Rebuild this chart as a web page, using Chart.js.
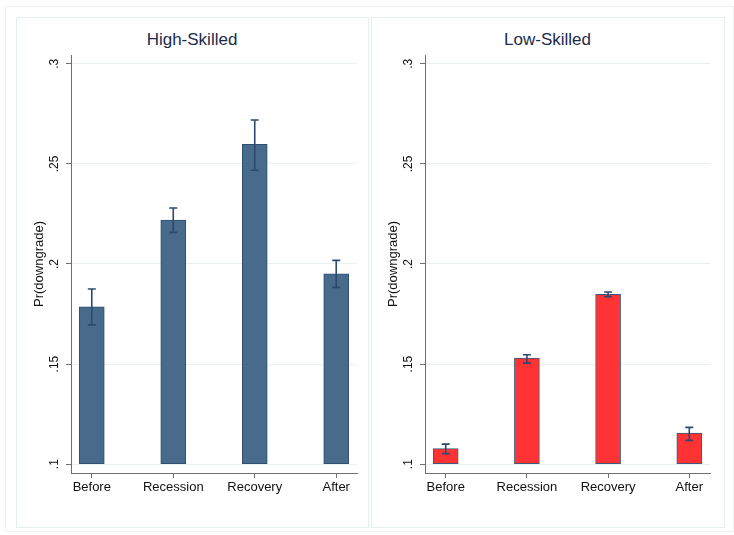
<!DOCTYPE html>
<html>
<head>
<meta charset="utf-8">
<script src="https://cdn.jsdelivr.net/npm/chart.js@4"></script>
<style>
  body { margin: 0; background: #fff; font-family: "Liberation Sans", Arial, sans-serif; }
  #wrap { position: relative; width: 734px; height: 535px; }
  .outer { position: absolute; left: 5px; top: 6px; width: 727px; height: 524px; border: 1px solid #eef2f3; }
  .panel { position: absolute; top: 17px; height: 509px; border: 1px solid #e6eef0; }
  .title { position: absolute; top: 30px; line-height: 20px; font-size: 17px; color: #1c2b4b; text-align: center; }
  canvas { position: absolute; top: 17px; }
</style>
</head>
<body>
<div id="wrap">
  <div class="outer"></div>
  <div class="panel" style="left:16px;width:351px;"></div>
  <div class="panel" style="left:371px;width:352px;"></div>
  <div class="title" style="left:16px;width:352px;">High-Skilled</div>
  <div class="title" style="left:371px;width:353px;">Low-Skilled</div>
  <canvas id="highChart" width="352" height="510" style="left:16px;"></canvas>
  <canvas id="lowChart" width="354" height="510" style="left:370px;"></canvas>
</div>
<script>
// --- data ---
const categories = ['Before', 'Recession', 'Recovery', 'After'];
const highValues = [0.1786, 0.2219, 0.2598, 0.1951];
const highLower  = [0.1696, 0.2158, 0.2468, 0.1883];
const highUpper  = [0.1875, 0.2280, 0.2719, 0.2018];
const lowValues  = [0.1078, 0.1530, 0.1849, 0.1155];
const lowLower   = [0.1053, 0.1505, 0.1837, 0.1119];
const lowUpper   = [0.1100, 0.1547, 0.1860, 0.1184];
const yTicks = [0.1, 0.15, 0.2, 0.25, 0.3];
const yTickLabels = ['.1', '.15', '.2', '.25', '.3'];

const axisGray = '#6f6f6f';
const errColor = '#2b4a6e';

// error bars drawn through the chart's own scales
const errorBars = {
    id: 'errorBars',
    afterDatasetsDraw(chart, args, opts) {
        const ctx = chart.ctx;
        const x = chart.scales.x, y = chart.scales.y;
        ctx.save();
        ctx.strokeStyle = errColor;
        ctx.lineWidth = 1.6;
        opts.lower.forEach((lo, i) => {
            const px = x.getPixelForValue(i);
            const yLo = y.getPixelForValue(lo);
            const yHi = y.getPixelForValue(opts.upper[i]);
            ctx.beginPath();
            ctx.moveTo(px, yLo); ctx.lineTo(px, yHi);
            ctx.moveTo(px - 4, yLo); ctx.lineTo(px + 4, yLo);
            ctx.moveTo(px - 4, yHi); ctx.lineTo(px + 4, yHi);
            ctx.stroke();
        });
        ctx.restore();
    }
};

// rotated y tick labels, Stata style
const yLabels = {
    id: 'yLabels',
    afterDraw(chart) {
        const ctx = chart.ctx;
        const y = chart.scales.y;
        ctx.save();
        ctx.fillStyle = '#111';
        ctx.font = '12px "Liberation Sans", Arial, sans-serif';
        ctx.textAlign = 'center';
        ctx.textBaseline = 'middle';
        yTicks.forEach((v, i) => {
            ctx.save();
            ctx.translate(chart.chartArea.left - 16.5, y.getPixelForValue(v));
            ctx.rotate(-Math.PI / 2);
            ctx.fillText(yTickLabels[i], 0, 0);
            ctx.restore();
        });
        ctx.restore();
    }
};

function makePanel(id, values, lower, upper, fill, edge, padRight) {
    new Chart(document.getElementById(id), {
        type: 'bar',
        data: {
            datasets: [{
                data: values.map((v, i) => ({ x: i, y: v })),
                base: 0.1,
                backgroundColor: fill,
                borderColor: edge,
                borderWidth: 1,
                borderSkipped: false,
                barThickness: 25
            }]
        },
        options: {
            responsive: false,
            animation: false,
            layout: { padding: { top: 38, right: padRight, left: 0, bottom: 0 } },
            plugins: {
                legend: { display: false },
                tooltip: { enabled: false },
                errorBars: { lower: lower, upper: upper }
            },
            scales: {
                x: {
                    type: 'linear',
                    offset: false,
                    min: -0.255,
                    max: 3.255,
                    afterBuildTicks: s => { s.ticks = categories.map((c, i) => ({ value: i })); },
                    afterFit: s => { s.height = 54; },
                    ticks: {
                        callback: v => categories[v],
                        color: '#111',
                        font: { size: 13, family: '"Liberation Sans", Arial, sans-serif' },
                        padding: 2,
                        maxRotation: 0,
                        autoSkip: false
                    },
                    grid: { offset: false, drawOnChartArea: false, drawTicks: true, tickLength: 5, tickColor: axisGray },
                    border: { display: true, color: axisGray, width: 1 }
                },
                y: {
                    min: 0.0956,
                    max: 0.3044,
                    afterBuildTicks: s => { s.ticks = yTicks.map(v => ({ value: v })); },
                    afterFit: s => { s.width = 55; },
                    ticks: { display: false },
                    title: {
                        display: true,
                        text: 'Pr(downgrade)',
                        color: '#111',
                        font: { size: 13, family: '"Liberation Sans", Arial, sans-serif' },
                        padding: { top: 16, bottom: 0 }
                    },
                    grid: { color: '#e8f0f2', lineWidth: 1, drawTicks: true, tickLength: 5, tickColor: axisGray },
                    border: { display: true, color: axisGray, width: 1 }
                }
            }
        },
        plugins: [errorBars, yLabels]
    });
}

makePanel('highChart', highValues, highLower, highUpper, '#486a8b', '#2f5072', 11);
makePanel('lowChart', lowValues, lowLower, lowUpper, '#ff3333', '#3d5a7c', 14);
</script>
</body>
</html>
